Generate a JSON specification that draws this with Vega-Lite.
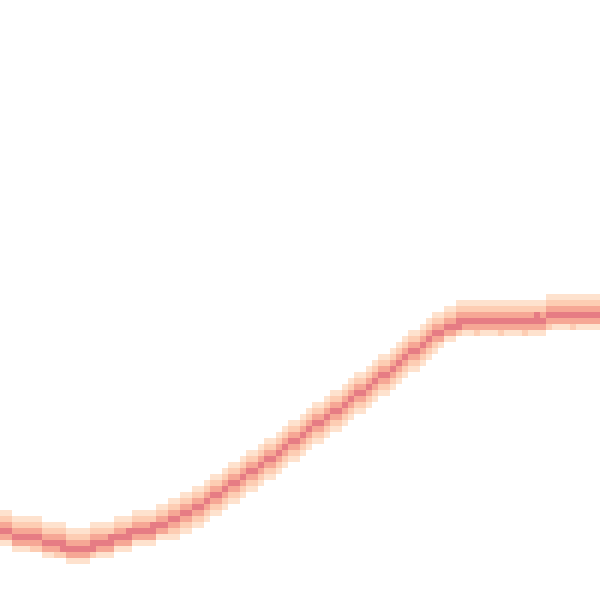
{
"$schema":"https://vega.github.io/schema/vega-lite/v6.json",
"autosize":{"type":"fit","contains":"padding"},
"width":600,"height":600,"padding":0,
"background":"white",
"config":{"view":{"stroke":null}},
"params":[{"name":"dom","value":[0,1,2,3,4,5,6,7,8,9,10,11,12,13,14,15,16,17,18,19,20,21,22,23,24,25,26,27,28,29,30,31,32,33,34,35,36,37,38,39,40,41,42,43,44,45,46,47,48,49,50,51,52,53,54,55,56,57,58,59,60,61,62,63,64,65,66,67,68,69,70,71,72,73,74,75,76,77,78,79,80,81,82,83,84,85,86,87,88,89,90,91,92,93,94,95,96,97,98,99]}],
"data":{"values":[
{"c":0,"r":85,"v":1},{"c":0,"r":86,"v":2},{"c":0,"r":87,"v":3},{"c":0,"r":88,"v":4},{"c":0,"r":89,"v":3},{"c":0,"r":90,"v":1},
{"c":1,"r":85,"v":1},{"c":1,"r":86,"v":2},{"c":1,"r":87,"v":3},{"c":1,"r":88,"v":4},{"c":1,"r":89,"v":3},{"c":1,"r":90,"v":1},
{"c":2,"r":86,"v":1},{"c":2,"r":87,"v":2},{"c":2,"r":88,"v":3},{"c":2,"r":89,"v":4},{"c":2,"r":90,"v":3},{"c":2,"r":91,"v":1},
{"c":3,"r":86,"v":1},{"c":3,"r":87,"v":2},{"c":3,"r":88,"v":3},{"c":3,"r":89,"v":4},{"c":3,"r":90,"v":3},{"c":3,"r":91,"v":1},
{"c":4,"r":86,"v":1},{"c":4,"r":87,"v":2},{"c":4,"r":88,"v":3},{"c":4,"r":89,"v":4},{"c":4,"r":90,"v":3},{"c":4,"r":91,"v":1},
{"c":5,"r":86,"v":1},{"c":5,"r":87,"v":2},{"c":5,"r":88,"v":3},{"c":5,"r":89,"v":4},{"c":5,"r":90,"v":3},{"c":5,"r":91,"v":2},
{"c":6,"r":86,"v":1},{"c":6,"r":87,"v":2},{"c":6,"r":88,"v":3},{"c":6,"r":89,"v":4},{"c":6,"r":90,"v":3},{"c":6,"r":91,"v":2},
{"c":7,"r":87,"v":1},{"c":7,"r":88,"v":2},{"c":7,"r":89,"v":3},{"c":7,"r":90,"v":4},{"c":7,"r":91,"v":3},{"c":7,"r":92,"v":1},
{"c":8,"r":87,"v":1},{"c":8,"r":88,"v":2},{"c":8,"r":89,"v":3},{"c":8,"r":90,"v":4},{"c":8,"r":91,"v":3},{"c":8,"r":92,"v":1},
{"c":9,"r":87,"v":1},{"c":9,"r":88,"v":2},{"c":9,"r":89,"v":3},{"c":9,"r":90,"v":4},{"c":9,"r":91,"v":3},{"c":9,"r":92,"v":2},
{"c":10,"r":87,"v":1},{"c":10,"r":88,"v":2},{"c":10,"r":89,"v":3},{"c":10,"r":90,"v":4},{"c":10,"r":91,"v":4},{"c":10,"r":92,"v":2},
{"c":11,"r":88,"v":1},{"c":11,"r":89,"v":2},{"c":11,"r":90,"v":3},{"c":11,"r":91,"v":4},{"c":11,"r":92,"v":3},{"c":11,"r":93,"v":1},
{"c":12,"r":88,"v":1},{"c":12,"r":89,"v":2},{"c":12,"r":90,"v":3},{"c":12,"r":91,"v":4},{"c":12,"r":92,"v":3},{"c":12,"r":93,"v":1},
{"c":13,"r":88,"v":1},{"c":13,"r":89,"v":2},{"c":13,"r":90,"v":3},{"c":13,"r":91,"v":4},{"c":13,"r":92,"v":3},{"c":13,"r":93,"v":1},
{"c":14,"r":88,"v":1},{"c":14,"r":89,"v":2},{"c":14,"r":90,"v":3},{"c":14,"r":91,"v":4},{"c":14,"r":92,"v":3},{"c":14,"r":93,"v":1},
{"c":15,"r":87,"v":1},{"c":15,"r":88,"v":2},{"c":15,"r":89,"v":3},{"c":15,"r":90,"v":4},{"c":15,"r":91,"v":4},{"c":15,"r":92,"v":2},
{"c":16,"r":87,"v":1},{"c":16,"r":88,"v":2},{"c":16,"r":89,"v":3},{"c":16,"r":90,"v":4},{"c":16,"r":91,"v":3},{"c":16,"r":92,"v":1},
{"c":17,"r":87,"v":1},{"c":17,"r":88,"v":2},{"c":17,"r":89,"v":3},{"c":17,"r":90,"v":4},{"c":17,"r":91,"v":3},{"c":17,"r":92,"v":1},
{"c":18,"r":87,"v":1},{"c":18,"r":88,"v":2},{"c":18,"r":89,"v":4},{"c":18,"r":90,"v":4},{"c":18,"r":91,"v":3},{"c":18,"r":92,"v":1},
{"c":19,"r":86,"v":1},{"c":19,"r":87,"v":2},{"c":19,"r":88,"v":3},{"c":19,"r":89,"v":4},{"c":19,"r":90,"v":3},{"c":19,"r":91,"v":1},
{"c":20,"r":86,"v":1},{"c":20,"r":87,"v":2},{"c":20,"r":88,"v":3},{"c":20,"r":89,"v":4},{"c":20,"r":90,"v":3},{"c":20,"r":91,"v":1},
{"c":21,"r":86,"v":1},{"c":21,"r":87,"v":2},{"c":21,"r":88,"v":4},{"c":21,"r":89,"v":4},{"c":21,"r":90,"v":3},{"c":21,"r":91,"v":1},
{"c":22,"r":85,"v":1},{"c":22,"r":86,"v":2},{"c":22,"r":87,"v":3},{"c":22,"r":88,"v":4},{"c":22,"r":89,"v":3},{"c":22,"r":90,"v":1},
{"c":23,"r":85,"v":1},{"c":23,"r":86,"v":2},{"c":23,"r":87,"v":3},{"c":23,"r":88,"v":4},{"c":23,"r":89,"v":3},{"c":23,"r":90,"v":1},
{"c":24,"r":85,"v":1},{"c":24,"r":86,"v":2},{"c":24,"r":87,"v":3},{"c":24,"r":88,"v":4},{"c":24,"r":89,"v":3},{"c":24,"r":90,"v":1},
{"c":25,"r":85,"v":1},{"c":25,"r":86,"v":2},{"c":25,"r":87,"v":4},{"c":25,"r":88,"v":4},{"c":25,"r":89,"v":3},{"c":25,"r":90,"v":1},
{"c":26,"r":84,"v":1},{"c":26,"r":85,"v":2},{"c":26,"r":86,"v":3},{"c":26,"r":87,"v":4},{"c":26,"r":88,"v":3},{"c":26,"r":89,"v":1},
{"c":27,"r":84,"v":1},{"c":27,"r":85,"v":2},{"c":27,"r":86,"v":3},{"c":27,"r":87,"v":4},{"c":27,"r":88,"v":3},{"c":27,"r":89,"v":1},
{"c":28,"r":83,"v":1},{"c":28,"r":84,"v":2},{"c":28,"r":85,"v":3},{"c":28,"r":86,"v":4},{"c":28,"r":87,"v":3},{"c":28,"r":88,"v":2},{"c":28,"r":89,"v":1},
{"c":29,"r":83,"v":1},{"c":29,"r":84,"v":2},{"c":29,"r":85,"v":3},{"c":29,"r":86,"v":4},{"c":29,"r":87,"v":3},{"c":29,"r":88,"v":2},{"c":29,"r":89,"v":1},
{"c":30,"r":82,"v":1},{"c":30,"r":83,"v":2},{"c":30,"r":84,"v":3},{"c":30,"r":85,"v":4},{"c":30,"r":86,"v":3},{"c":30,"r":87,"v":2},{"c":30,"r":88,"v":1},
{"c":31,"r":82,"v":1},{"c":31,"r":83,"v":2},{"c":31,"r":84,"v":3},{"c":31,"r":85,"v":4},{"c":31,"r":86,"v":3},{"c":31,"r":87,"v":2},{"c":31,"r":88,"v":1},
{"c":32,"r":81,"v":1},{"c":32,"r":82,"v":2},{"c":32,"r":83,"v":3},{"c":32,"r":84,"v":4},{"c":32,"r":85,"v":3},{"c":32,"r":86,"v":2},{"c":32,"r":87,"v":1},
{"c":33,"r":81,"v":1},{"c":33,"r":82,"v":2},{"c":33,"r":83,"v":3},{"c":33,"r":84,"v":4},{"c":33,"r":85,"v":3},{"c":33,"r":86,"v":2},{"c":33,"r":87,"v":1},
{"c":34,"r":80,"v":1},{"c":34,"r":81,"v":2},{"c":34,"r":82,"v":3},{"c":34,"r":83,"v":4},{"c":34,"r":84,"v":3},{"c":34,"r":85,"v":2},{"c":34,"r":86,"v":1},
{"c":35,"r":79,"v":1},{"c":35,"r":80,"v":2},{"c":35,"r":81,"v":3},{"c":35,"r":82,"v":4},{"c":35,"r":83,"v":3},{"c":35,"r":84,"v":2},{"c":35,"r":85,"v":1},
{"c":36,"r":79,"v":1},{"c":36,"r":80,"v":2},{"c":36,"r":81,"v":3},{"c":36,"r":82,"v":4},{"c":36,"r":83,"v":3},{"c":36,"r":84,"v":2},{"c":36,"r":85,"v":1},
{"c":37,"r":78,"v":1},{"c":37,"r":79,"v":2},{"c":37,"r":80,"v":3},{"c":37,"r":81,"v":4},{"c":37,"r":82,"v":3},{"c":37,"r":83,"v":2},{"c":37,"r":84,"v":1},
{"c":38,"r":77,"v":1},{"c":38,"r":78,"v":2},{"c":38,"r":79,"v":3},{"c":38,"r":80,"v":4},{"c":38,"r":81,"v":3},{"c":38,"r":82,"v":2},{"c":38,"r":83,"v":1},
{"c":39,"r":77,"v":1},{"c":39,"r":78,"v":2},{"c":39,"r":79,"v":3},{"c":39,"r":80,"v":4},{"c":39,"r":81,"v":3},{"c":39,"r":82,"v":2},{"c":39,"r":83,"v":1},
{"c":40,"r":76,"v":1},{"c":40,"r":77,"v":2},{"c":40,"r":78,"v":3},{"c":40,"r":79,"v":4},{"c":40,"r":80,"v":3},{"c":40,"r":81,"v":2},{"c":40,"r":82,"v":1},
{"c":41,"r":75,"v":1},{"c":41,"r":76,"v":2},{"c":41,"r":77,"v":3},{"c":41,"r":78,"v":4},{"c":41,"r":79,"v":3},{"c":41,"r":80,"v":2},{"c":41,"r":81,"v":1},
{"c":42,"r":75,"v":1},{"c":42,"r":76,"v":2},{"c":42,"r":77,"v":3},{"c":42,"r":78,"v":4},{"c":42,"r":79,"v":3},{"c":42,"r":80,"v":2},{"c":42,"r":81,"v":1},
{"c":43,"r":74,"v":1},{"c":43,"r":75,"v":2},{"c":43,"r":76,"v":3},{"c":43,"r":77,"v":4},{"c":43,"r":78,"v":3},{"c":43,"r":79,"v":2},{"c":43,"r":80,"v":1},
{"c":44,"r":73,"v":1},{"c":44,"r":74,"v":2},{"c":44,"r":75,"v":3},{"c":44,"r":76,"v":4},{"c":44,"r":77,"v":3},{"c":44,"r":78,"v":2},{"c":44,"r":79,"v":1},
{"c":45,"r":73,"v":1},{"c":45,"r":74,"v":2},{"c":45,"r":75,"v":3},{"c":45,"r":76,"v":4},{"c":45,"r":77,"v":3},{"c":45,"r":78,"v":2},{"c":45,"r":79,"v":1},
{"c":46,"r":72,"v":1},{"c":46,"r":73,"v":2},{"c":46,"r":74,"v":3},{"c":46,"r":75,"v":4},{"c":46,"r":76,"v":3},{"c":46,"r":77,"v":2},{"c":46,"r":78,"v":1},
{"c":47,"r":71,"v":1},{"c":47,"r":72,"v":2},{"c":47,"r":73,"v":3},{"c":47,"r":74,"v":4},{"c":47,"r":75,"v":3},{"c":47,"r":76,"v":2},{"c":47,"r":77,"v":1},
{"c":48,"r":70,"v":1},{"c":48,"r":71,"v":2},{"c":48,"r":72,"v":3},{"c":48,"r":73,"v":4},{"c":48,"r":74,"v":3},{"c":48,"r":75,"v":2},{"c":48,"r":76,"v":1},
{"c":49,"r":70,"v":1},{"c":49,"r":71,"v":2},{"c":49,"r":72,"v":3},{"c":49,"r":73,"v":4},{"c":49,"r":74,"v":3},{"c":49,"r":75,"v":2},{"c":49,"r":76,"v":1},
{"c":50,"r":69,"v":1},{"c":50,"r":70,"v":2},{"c":50,"r":71,"v":3},{"c":50,"r":72,"v":4},{"c":50,"r":73,"v":3},{"c":50,"r":74,"v":2},{"c":50,"r":75,"v":1},
{"c":51,"r":68,"v":1},{"c":51,"r":69,"v":2},{"c":51,"r":70,"v":3},{"c":51,"r":71,"v":4},{"c":51,"r":72,"v":3},{"c":51,"r":73,"v":2},{"c":51,"r":74,"v":1},
{"c":52,"r":67,"v":1},{"c":52,"r":68,"v":2},{"c":52,"r":69,"v":3},{"c":52,"r":70,"v":4},{"c":52,"r":71,"v":3},{"c":52,"r":72,"v":2},{"c":52,"r":73,"v":1},
{"c":53,"r":67,"v":1},{"c":53,"r":68,"v":2},{"c":53,"r":69,"v":3},{"c":53,"r":70,"v":4},{"c":53,"r":71,"v":3},{"c":53,"r":72,"v":2},{"c":53,"r":73,"v":1},
{"c":54,"r":66,"v":1},{"c":54,"r":67,"v":2},{"c":54,"r":68,"v":3},{"c":54,"r":69,"v":4},{"c":54,"r":70,"v":3},{"c":54,"r":71,"v":2},{"c":54,"r":72,"v":1},
{"c":55,"r":65,"v":1},{"c":55,"r":66,"v":2},{"c":55,"r":67,"v":3},{"c":55,"r":68,"v":4},{"c":55,"r":69,"v":3},{"c":55,"r":70,"v":2},{"c":55,"r":71,"v":1},
{"c":56,"r":65,"v":1},{"c":56,"r":66,"v":2},{"c":56,"r":67,"v":3},{"c":56,"r":68,"v":4},{"c":56,"r":69,"v":3},{"c":56,"r":70,"v":2},{"c":56,"r":71,"v":1},
{"c":57,"r":64,"v":1},{"c":57,"r":65,"v":2},{"c":57,"r":66,"v":3},{"c":57,"r":67,"v":4},{"c":57,"r":68,"v":3},{"c":57,"r":69,"v":2},{"c":57,"r":70,"v":1},
{"c":58,"r":63,"v":1},{"c":58,"r":64,"v":2},{"c":58,"r":65,"v":3},{"c":58,"r":66,"v":4},{"c":58,"r":67,"v":3},{"c":58,"r":68,"v":2},{"c":58,"r":69,"v":1},
{"c":59,"r":62,"v":1},{"c":59,"r":63,"v":2},{"c":59,"r":64,"v":3},{"c":59,"r":65,"v":4},{"c":59,"r":66,"v":3},{"c":59,"r":67,"v":2},{"c":59,"r":68,"v":1},
{"c":60,"r":62,"v":1},{"c":60,"r":63,"v":2},{"c":60,"r":64,"v":3},{"c":60,"r":65,"v":4},{"c":60,"r":66,"v":3},{"c":60,"r":67,"v":2},{"c":60,"r":68,"v":1},
{"c":61,"r":61,"v":1},{"c":61,"r":62,"v":2},{"c":61,"r":63,"v":3},{"c":61,"r":64,"v":4},{"c":61,"r":65,"v":3},{"c":61,"r":66,"v":2},{"c":61,"r":67,"v":1},
{"c":62,"r":60,"v":1},{"c":62,"r":61,"v":2},{"c":62,"r":62,"v":3},{"c":62,"r":63,"v":4},{"c":62,"r":64,"v":3},{"c":62,"r":65,"v":2},{"c":62,"r":66,"v":1},
{"c":63,"r":59,"v":1},{"c":63,"r":60,"v":2},{"c":63,"r":61,"v":3},{"c":63,"r":62,"v":4},{"c":63,"r":63,"v":3},{"c":63,"r":64,"v":2},{"c":63,"r":65,"v":1},
{"c":64,"r":59,"v":1},{"c":64,"r":60,"v":2},{"c":64,"r":61,"v":3},{"c":64,"r":62,"v":4},{"c":64,"r":63,"v":3},{"c":64,"r":64,"v":2},{"c":64,"r":65,"v":1},
{"c":65,"r":58,"v":1},{"c":65,"r":59,"v":2},{"c":65,"r":60,"v":3},{"c":65,"r":61,"v":4},{"c":65,"r":62,"v":3},{"c":65,"r":63,"v":2},{"c":65,"r":64,"v":1},
{"c":66,"r":57,"v":1},{"c":66,"r":58,"v":2},{"c":66,"r":59,"v":3},{"c":66,"r":60,"v":4},{"c":66,"r":61,"v":3},{"c":66,"r":62,"v":2},{"c":66,"r":63,"v":1},
{"c":67,"r":56,"v":1},{"c":67,"r":57,"v":2},{"c":67,"r":58,"v":3},{"c":67,"r":59,"v":4},{"c":67,"r":60,"v":3},{"c":67,"r":61,"v":2},{"c":67,"r":62,"v":1},
{"c":68,"r":55,"v":1},{"c":68,"r":56,"v":2},{"c":68,"r":57,"v":3},{"c":68,"r":58,"v":4},{"c":68,"r":59,"v":3},{"c":68,"r":60,"v":2},{"c":68,"r":61,"v":1},
{"c":69,"r":55,"v":1},{"c":69,"r":56,"v":2},{"c":69,"r":57,"v":3},{"c":69,"r":58,"v":4},{"c":69,"r":59,"v":3},{"c":69,"r":60,"v":2},{"c":69,"r":61,"v":1},
{"c":70,"r":54,"v":1},{"c":70,"r":55,"v":2},{"c":70,"r":56,"v":3},{"c":70,"r":57,"v":4},{"c":70,"r":58,"v":3},{"c":70,"r":59,"v":2},{"c":70,"r":60,"v":1},
{"c":71,"r":53,"v":1},{"c":71,"r":54,"v":2},{"c":71,"r":55,"v":3},{"c":71,"r":56,"v":4},{"c":71,"r":57,"v":3},{"c":71,"r":58,"v":2},{"c":71,"r":59,"v":1},
{"c":72,"r":52,"v":1},{"c":72,"r":53,"v":2},{"c":72,"r":54,"v":3},{"c":72,"r":55,"v":4},{"c":72,"r":56,"v":3},{"c":72,"r":57,"v":2},{"c":72,"r":58,"v":1},
{"c":73,"r":52,"v":1},{"c":73,"r":53,"v":2},{"c":73,"r":54,"v":3},{"c":73,"r":55,"v":4},{"c":73,"r":56,"v":3},{"c":73,"r":57,"v":1},
{"c":74,"r":51,"v":1},{"c":74,"r":52,"v":2},{"c":74,"r":53,"v":3},{"c":74,"r":54,"v":4},{"c":74,"r":55,"v":3},{"c":74,"r":56,"v":1},
{"c":75,"r":51,"v":1},{"c":75,"r":52,"v":2},{"c":75,"r":53,"v":3},{"c":75,"r":54,"v":4},{"c":75,"r":55,"v":3},{"c":75,"r":56,"v":1},
{"c":76,"r":50,"v":1},{"c":76,"r":51,"v":2},{"c":76,"r":52,"v":3},{"c":76,"r":53,"v":4},{"c":76,"r":54,"v":4},{"c":76,"r":55,"v":2},
{"c":77,"r":50,"v":1},{"c":77,"r":51,"v":2},{"c":77,"r":52,"v":3},{"c":77,"r":53,"v":4},{"c":77,"r":54,"v":3},{"c":77,"r":55,"v":1},
{"c":78,"r":50,"v":1},{"c":78,"r":51,"v":2},{"c":78,"r":52,"v":3},{"c":78,"r":53,"v":4},{"c":78,"r":54,"v":3},{"c":78,"r":55,"v":1},
{"c":79,"r":50,"v":1},{"c":79,"r":51,"v":2},{"c":79,"r":52,"v":3},{"c":79,"r":53,"v":4},{"c":79,"r":54,"v":3},{"c":79,"r":55,"v":2},
{"c":80,"r":50,"v":1},{"c":80,"r":51,"v":2},{"c":80,"r":52,"v":3},{"c":80,"r":53,"v":4},{"c":80,"r":54,"v":3},{"c":80,"r":55,"v":1},
{"c":81,"r":50,"v":1},{"c":81,"r":51,"v":2},{"c":81,"r":52,"v":3},{"c":81,"r":53,"v":4},{"c":81,"r":54,"v":3},{"c":81,"r":55,"v":1},
{"c":82,"r":50,"v":1},{"c":82,"r":51,"v":2},{"c":82,"r":52,"v":3},{"c":82,"r":53,"v":4},{"c":82,"r":54,"v":3},{"c":82,"r":55,"v":1},
{"c":83,"r":50,"v":1},{"c":83,"r":51,"v":2},{"c":83,"r":52,"v":3},{"c":83,"r":53,"v":4},{"c":83,"r":54,"v":3},{"c":83,"r":55,"v":2},
{"c":84,"r":50,"v":1},{"c":84,"r":51,"v":2},{"c":84,"r":52,"v":3},{"c":84,"r":53,"v":4},{"c":84,"r":54,"v":3},{"c":84,"r":55,"v":1},
{"c":85,"r":50,"v":1},{"c":85,"r":51,"v":2},{"c":85,"r":52,"v":3},{"c":85,"r":53,"v":4},{"c":85,"r":54,"v":3},{"c":85,"r":55,"v":1},
{"c":86,"r":50,"v":1},{"c":86,"r":51,"v":2},{"c":86,"r":52,"v":3},{"c":86,"r":53,"v":4},{"c":86,"r":54,"v":3},{"c":86,"r":55,"v":1},
{"c":87,"r":50,"v":1},{"c":87,"r":51,"v":2},{"c":87,"r":52,"v":3},{"c":87,"r":53,"v":4},{"c":87,"r":54,"v":3},{"c":87,"r":55,"v":2},
{"c":88,"r":50,"v":1},{"c":88,"r":51,"v":2},{"c":88,"r":52,"v":3},{"c":88,"r":53,"v":4},{"c":88,"r":54,"v":3},{"c":88,"r":55,"v":1},
{"c":89,"r":50,"v":1},{"c":89,"r":51,"v":2},{"c":89,"r":52,"v":4},{"c":89,"r":53,"v":4},{"c":89,"r":54,"v":3},{"c":89,"r":55,"v":1},
{"c":90,"r":50,"v":1},{"c":90,"r":51,"v":2},{"c":90,"r":52,"v":3},{"c":90,"r":53,"v":4},{"c":90,"r":54,"v":3},{"c":90,"r":55,"v":1},
{"c":91,"r":49,"v":1},{"c":91,"r":50,"v":2},{"c":91,"r":51,"v":3},{"c":91,"r":52,"v":4},{"c":91,"r":53,"v":3},{"c":91,"r":54,"v":2},
{"c":92,"r":49,"v":1},{"c":92,"r":50,"v":2},{"c":92,"r":51,"v":3},{"c":92,"r":52,"v":4},{"c":92,"r":53,"v":3},{"c":92,"r":54,"v":1},
{"c":93,"r":49,"v":1},{"c":93,"r":50,"v":2},{"c":93,"r":51,"v":3},{"c":93,"r":52,"v":4},{"c":93,"r":53,"v":3},{"c":93,"r":54,"v":1},
{"c":94,"r":49,"v":1},{"c":94,"r":50,"v":2},{"c":94,"r":51,"v":3},{"c":94,"r":52,"v":4},{"c":94,"r":53,"v":3},{"c":94,"r":54,"v":1},
{"c":95,"r":49,"v":1},{"c":95,"r":50,"v":2},{"c":95,"r":51,"v":3},{"c":95,"r":52,"v":4},{"c":95,"r":53,"v":3},{"c":95,"r":54,"v":2},
{"c":96,"r":49,"v":1},{"c":96,"r":50,"v":2},{"c":96,"r":51,"v":3},{"c":96,"r":52,"v":4},{"c":96,"r":53,"v":3},{"c":96,"r":54,"v":1},
{"c":97,"r":49,"v":1},{"c":97,"r":50,"v":2},{"c":97,"r":51,"v":3},{"c":97,"r":52,"v":4},{"c":97,"r":53,"v":3},{"c":97,"r":54,"v":1},
{"c":98,"r":49,"v":1},{"c":98,"r":50,"v":2},{"c":98,"r":51,"v":3},{"c":98,"r":52,"v":4},{"c":98,"r":53,"v":3},{"c":98,"r":54,"v":1},
{"c":99,"r":49,"v":1},{"c":99,"r":50,"v":2},{"c":99,"r":51,"v":3},{"c":99,"r":52,"v":4},{"c":99,"r":53,"v":3},{"c":99,"r":54,"v":1}
]},
"mark":{"type":"rect","strokeWidth":0},
"encoding":{
"x":{"field":"c","type":"ordinal","scale":{"domain":{"signal":"dom"},"paddingInner":0,"paddingOuter":0},"axis":null},
"y":{"field":"r","type":"ordinal","scale":{"domain":{"signal":"dom"},"paddingInner":0,"paddingOuter":0},"axis":null},
"color":{"field":"v","type":"ordinal","scale":{"domain":[1,2,3,4],"range":["#fee2ce","#fdcdb3","#f6a795","#e67c84"]},"legend":null}
}
}
